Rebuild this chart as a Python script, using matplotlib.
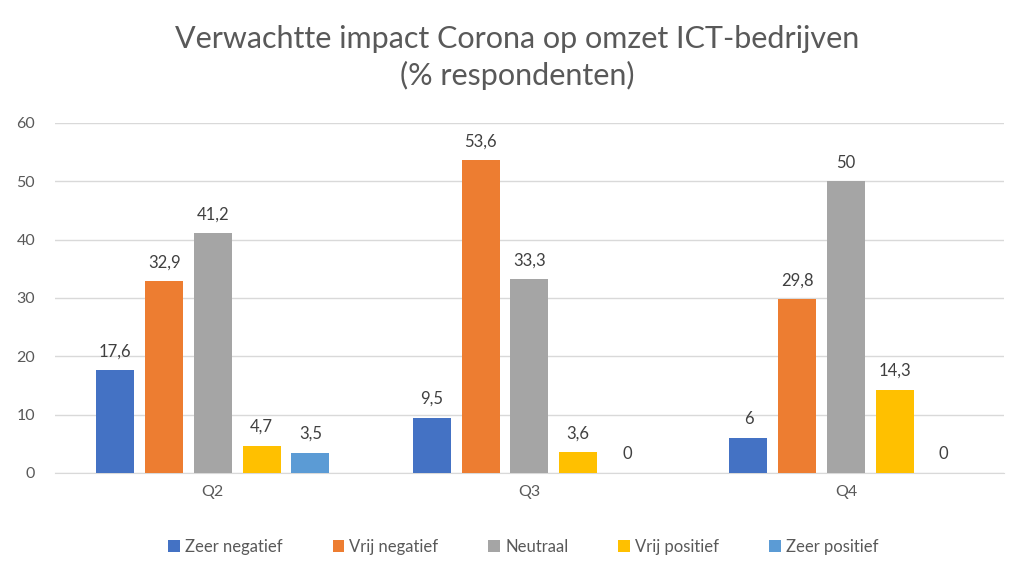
import numpy as np
import matplotlib.pyplot as plt

plt.rcParams['font.family'] = ['Lato', 'DejaVu Sans']

quarters = ["Q2", "Q3", "Q4"]
series = ["Zeer negatief", "Vrij negatief", "Neutraal", "Vrij positief", "Zeer positief"]
values = [
    [17.6, 9.5, 6],      # Zeer negatief
    [32.9, 53.6, 29.8],  # Vrij negatief
    [41.2, 33.3, 50],    # Neutraal
    [4.7, 3.6, 14.3],    # Vrij positief
    [3.5, 0, 0],         # Zeer positief
]
colors = ["#4472C4", "#ED7D31", "#A5A5A5", "#FFC000", "#5B9BD5"]

fig = plt.figure(figsize=(10.3, 5.8), dpi=100)
ax = fig.add_axes([0.053, 0.1845, 0.922, 0.6035])

x = np.arange(len(quarters))
step = 0.154
width = 0.12
for i, (name, vals, c) in enumerate(zip(series, values, colors)):
    pos = x + (i - 2) * step
    ax.bar(pos, vals, width, color=c, label=name, zorder=3)
    for p, v in zip(pos, vals):
        txt = f"{v:g}".replace(".", ",")
        ax.text(p, v + 1.8, txt, ha="center", va="bottom",
                fontsize=12, color="#404040")

ax.set_xlim(-0.5, 2.5)
ax.set_ylim(0, 60)
ax.set_yticks(range(0, 61, 10))
ax.set_xticks(x)
ax.set_xticklabels(quarters)
ax.grid(axis="y", color="#D9D9D9", linewidth=1, zorder=0)
for s in ["top", "right", "left"]:
    ax.spines[s].set_visible(False)
ax.spines["bottom"].set_color("#D9D9D9")
ax.tick_params(axis="both", length=0, labelsize=11.5, labelcolor="#595959")
ax.tick_params(axis="y", pad=14)
ax.tick_params(axis="x", pad=9)

fig.suptitle("Verwachtte impact Corona op omzet ICT-bedrijven\n(% respondenten)",
             x=0.502, y=0.957, fontsize=22, color="#595959", linespacing=1.35)

fig.legend(loc="center", bbox_to_anchor=(0.508, 0.057), ncol=5, frameon=False,
           fontsize=12, handlelength=0.7, handleheight=0.7, handletextpad=0.3,
           columnspacing=3.0, labelcolor="#595959")

fig.savefig("out.png", dpi=100)
